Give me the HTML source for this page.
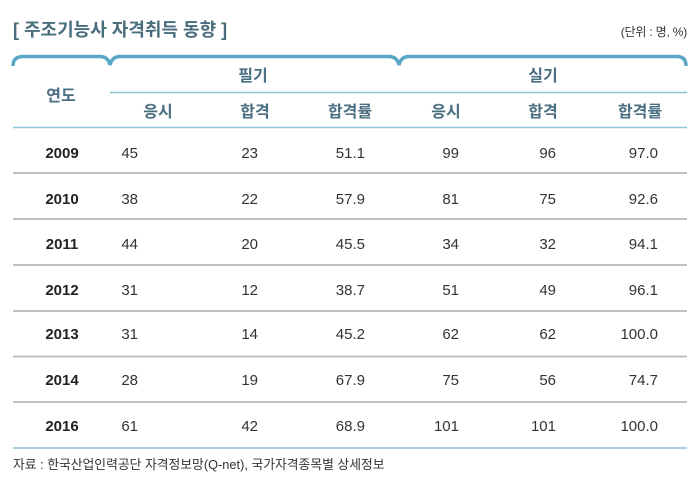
<!DOCTYPE html>
<html><head><meta charset="utf-8">
<style>
html,body{margin:0;padding:0;background:#fff;}
body{width:695px;height:488px;position:relative;overflow:hidden;font-family:"Liberation Sans","Noto Sans CJK KR",sans-serif;}
.t{position:absolute;white-space:nowrap;line-height:1;}
.title{left:13px;top:21px;font-size:18px;color:#4a6d7e;font-weight:bold;letter-spacing:0px;}
.unit{right:8px;top:26px;font-size:12px;color:#333;letter-spacing:-0.2px;}
.h{font-size:16px;font-weight:bold;color:#4b6f82;transform:translateX(-50%);}
.y{font-size:15px;font-weight:bold;color:#222;transform:translateX(-50%);}
.n{font-size:15px;color:#333;transform:translateX(-100%);}
.src{left:13px;top:459px;font-size:12.8px;color:#333;letter-spacing:0px;}
</style></head><body>
<svg width="695" height="488" style="position:absolute;left:0;top:0">
<path d="M13,66 Q13,56.5 23,56.5 L100,56.5 Q108,56.5 110,65 Q112,56.5 120,56.5 L389,56.5 Q397,56.5 399,65 Q401,56.5 409,56.5 L677,56.5 Q686,56.5 686,66" fill="none" stroke="#5aa7c6" stroke-width="3.5"/>
<line x1="110" y1="92.5" x2="687" y2="92.5" stroke="#8cc4dc" stroke-width="1.5"/>
<line x1="13" y1="127.5" x2="687" y2="127.5" stroke="#8cc4dc" stroke-width="1.5"/>
<g stroke="#b8b8b8" stroke-width="1.8">
<line x1="13" y1="173" x2="687" y2="173"/>
<line x1="13" y1="219" x2="687" y2="219"/>
<line x1="13" y1="265" x2="687" y2="265"/>
<line x1="13" y1="311" x2="687" y2="311"/>
<line x1="13" y1="356.5" x2="687" y2="356.5"/>
<line x1="13" y1="402" x2="687" y2="402"/>
</g>
<line x1="13" y1="448" x2="687" y2="448" stroke="#8cc4dc" stroke-width="1.5"/>
</svg>
<div class="t title">[ 주조기능사 자격취득 동향 ]</div>
<div class="t unit">(단위 : 명, %)</div>
<div class="t h" style="left:61px;top:89px">연도</div>
<div class="t h" style="left:253px;top:69px">필기</div>
<div class="t h" style="left:543px;top:69px">실기</div>
<div class="t h" style="left:158px;top:105px">응시</div>
<div class="t h" style="left:255px;top:105px">합격</div>
<div class="t h" style="left:350px;top:105px">합격률</div>
<div class="t h" style="left:446px;top:105px">응시</div>
<div class="t h" style="left:543px;top:105px">합격</div>
<div class="t h" style="left:640px;top:105px">합격률</div>

<div class="t y" style="left:62px;top:146px">2009</div>
<div class="t n" style="left:138px;top:146px">45</div>
<div class="t n" style="left:258px;top:146px">23</div>
<div class="t n" style="left:365px;top:146px">51.1</div>
<div class="t n" style="left:459px;top:146px">99</div>
<div class="t n" style="left:556px;top:146px">96</div>
<div class="t n" style="left:658px;top:146px">97.0</div>

<div class="t y" style="left:62px;top:192px">2010</div>
<div class="t n" style="left:138px;top:192px">38</div>
<div class="t n" style="left:258px;top:192px">22</div>
<div class="t n" style="left:365px;top:192px">57.9</div>
<div class="t n" style="left:459px;top:192px">81</div>
<div class="t n" style="left:556px;top:192px">75</div>
<div class="t n" style="left:658px;top:192px">92.6</div>

<div class="t y" style="left:62px;top:237px">2011</div>
<div class="t n" style="left:138px;top:237px">44</div>
<div class="t n" style="left:258px;top:237px">20</div>
<div class="t n" style="left:365px;top:237px">45.5</div>
<div class="t n" style="left:459px;top:237px">34</div>
<div class="t n" style="left:556px;top:237px">32</div>
<div class="t n" style="left:658px;top:237px">94.1</div>

<div class="t y" style="left:62px;top:283px">2012</div>
<div class="t n" style="left:138px;top:283px">31</div>
<div class="t n" style="left:258px;top:283px">12</div>
<div class="t n" style="left:365px;top:283px">38.7</div>
<div class="t n" style="left:459px;top:283px">51</div>
<div class="t n" style="left:556px;top:283px">49</div>
<div class="t n" style="left:658px;top:283px">96.1</div>

<div class="t y" style="left:62px;top:327px">2013</div>
<div class="t n" style="left:138px;top:327px">31</div>
<div class="t n" style="left:258px;top:327px">14</div>
<div class="t n" style="left:365px;top:327px">45.2</div>
<div class="t n" style="left:459px;top:327px">62</div>
<div class="t n" style="left:556px;top:327px">62</div>
<div class="t n" style="left:658px;top:327px">100.0</div>

<div class="t y" style="left:62px;top:373px">2014</div>
<div class="t n" style="left:138px;top:373px">28</div>
<div class="t n" style="left:258px;top:373px">19</div>
<div class="t n" style="left:365px;top:373px">67.9</div>
<div class="t n" style="left:459px;top:373px">75</div>
<div class="t n" style="left:556px;top:373px">56</div>
<div class="t n" style="left:658px;top:373px">74.7</div>

<div class="t y" style="left:62px;top:419px">2016</div>
<div class="t n" style="left:138px;top:419px">61</div>
<div class="t n" style="left:258px;top:419px">42</div>
<div class="t n" style="left:365px;top:419px">68.9</div>
<div class="t n" style="left:459px;top:419px">101</div>
<div class="t n" style="left:556px;top:419px">101</div>
<div class="t n" style="left:658px;top:419px">100.0</div>

<div class="t src">자료 : 한국산업인력공단 자격정보망(Q-net), 국가자격종목별 상세정보</div>
</body></html>
